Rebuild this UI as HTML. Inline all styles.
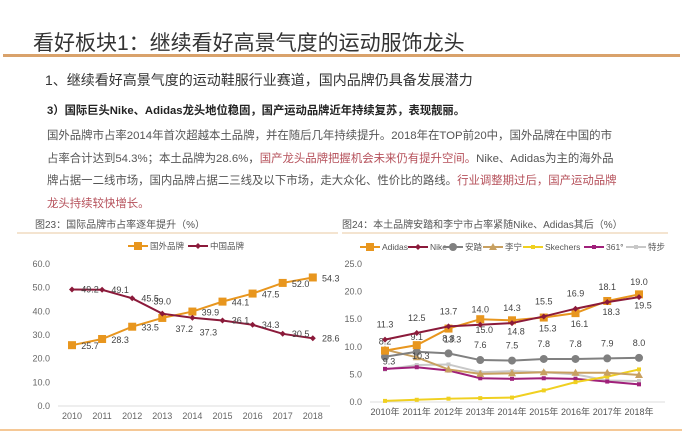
<!DOCTYPE html>
<html><head><meta charset="utf-8">
<style>
body{margin:0;width:682px;height:431px;background:#fff;overflow:hidden;font-family:"Liberation Sans","Noto Sans CJK SC",sans-serif;position:relative}
.t{position:absolute;white-space:nowrap}
.red{color:#b5505a}
</style></head><body>
<div class="t" style="left:33px;top:27px;font-size:21px;color:#333">看好板块1：继续看好高景气度的运动服饰龙头</div>
<div style="position:absolute;left:3px;top:54px;width:677px;height:3px;background:#d9a26b"></div>
<div class="t" style="left:45px;top:70px;font-size:14px;color:#333">1、继续看好高景气度的运动鞋服行业赛道，国内品牌仍具备发展潜力</div>
<div class="t" style="left:47px;top:102px;font-size:11.3px;font-weight:bold;color:#222">3）国际巨头Nike、Adidas龙头地位稳固，国产运动品牌近年持续复苏，表现靓丽。</div>
<div style="position:absolute;left:47px;top:125px;width:600px;white-space:nowrap;font-size:11.4px;line-height:22.5px;color:#555">国外品牌市占率2014年首次超越本土品牌，并在随后几年持续提升。2018年在TOP前20中，国外品牌在中国的市<br>占率合计达到54.3%；本土品牌为28.6%，<span class="red">国产龙头品牌把握机会未来仍有提升空间。</span>Nike、Adidas为主的海外品<br>牌占据一二线市场，国内品牌占据二三线及以下市场，走大众化、性价比的路线。<span class="red">行业调整期过后，国产运动品牌<br>龙头持续较快增长。</span></div>

<svg id="c" width="682" height="431" style="position:absolute;left:0;top:0" font-family="Liberation Sans, Noto Sans CJK SC, sans-serif">
<text x="35" y="228" font-size="10" fill="#555">图23：国际品牌市占率逐年提升（%）</text>
<line x1="17" y1="233" x2="338" y2="233" stroke="#e8c9a0"/>
<text x="342" y="228" font-size="10" fill="#555">图24：本土品牌安踏和李宁市占率紧随Nike、Adidas其后（%）</text>
<line x1="342" y1="233" x2="668" y2="233" stroke="#e8c9a0"/>
<line x1="0" y1="430" x2="682" y2="430" stroke="#f5c896" stroke-width="2"/>
<g id="L"></g><g id="R"></g>
</svg>
<script>
const years=['2010','2011','2012','2013','2014','2015','2016','2017','2018'];
const leftTicks=[0,10,20,30,40,50,60];
const foreign=[25.7,28.3,33.5,37.2,39.9,44.1,47.5,52.0,54.3];
const china=[49.2,49.1,45.5,39.0,37.3,36.1,34.3,30.5,28.6];
const rightTicks=[0,5,10,15,20,25];
const adidas=[9.3,10.3,13.3,15.0,14.8,15.3,16.1,18.3,19.5];
const nike=[11.3,12.5,13.7,14.0,14.3,15.5,16.9,18.1,19.0];
const anta=[8.2,9.1,8.8,7.6,7.5,7.8,7.8,7.9,8.0];
const lining=[9.5,8.1,5.9,5.1,5.2,5.4,5.3,5.3,4.9];
const skechers=[0.2,0.4,0.6,0.7,0.8,2.1,3.6,4.6,5.9];
const s361=[6.0,6.3,5.7,4.3,4.2,4.3,4.2,3.7,3.2];
const xtep=[5.9,6.7,6.8,5.4,5.6,5.4,5.0,3.9,3.8];

const NS='http://www.w3.org/2000/svg';
function mk(p,tag,a){const e=document.createElementNS(NS,tag);for(const k in a)e.setAttribute(k,a[k]);p.appendChild(e);return e;}
function txt(p,x,y,s,size,fill,anchor){const t=mk(p,'text',{x:x,y:y,'font-size':size,fill:fill,'text-anchor':anchor||'middle'});t.textContent=s;return t;}

const L=document.getElementById('L');
const lx=i=>72+i*30.1, ly=v=>406-v*2.367;
leftTicks.forEach(v=>{const t=txt(L,50,ly(v)+3,v.toFixed(1),9,'#666','end');

});
mk(L,'line',{x1:58,y1:406,x2:330,y2:406,stroke:'#ddd'});
years.forEach((y,i)=>{const t=txt(L,lx(i),419,y,9,'#666');

});
function lseries(g,arr,col,marker,name,fx,fy,labelPos){
 const pl=mk(g,'polyline',{points:arr.map((v,i)=>fx(i)+','+fy(v)).join(' '),fill:'none',stroke:col,'stroke-width':2});
 
 
 arr.forEach((v,i)=>{let m;
  if(marker==='sq')m=mk(g,'rect',{x:fx(i)-4,y:fy(v)-4,width:8,height:8,fill:col});
  else if(marker==='c')m=mk(g,'circle',{cx:fx(i),cy:fy(v),r:4,fill:col});
  else if(marker==='tri')m=mk(g,'polygon',{points:`${fx(i)-4},${fy(v)+3} ${fx(i)+4},${fy(v)+3} ${fx(i)},${fy(v)-4}`,fill:col});
  else if(marker==='d')m=mk(g,'polygon',{points:`${fx(i)-3},${fy(v)} ${fx(i)},${fy(v)-3} ${fx(i)+3},${fy(v)} ${fx(i)},${fy(v)+3}`,fill:col});
  else m=mk(g,'rect',{x:fx(i)-2,y:fy(v)-2,width:4,height:4,fill:col});
  
  
  if(labelPos){const o=labelPos(i);const t=txt(g,fx(i)+o[0],fy(v)+o[1],v.toFixed(1),9,'#444');
   
   }
 });
}
lseries(L,foreign,'#e8961e','sq','foreign-brands',lx,ly,i=>i===3?[22,14]:[18,4]);
lseries(L,china,'#8b1a3a','d','china-brands',lx,ly,i=>i===3?[0,-9]:i===4?[16,18]:[18,3]);
function legend(g,x,y,col,marker,label,name){
 const gg=mk(g,'g',{});
 
 
 mk(gg,'line',{x1:x,y1:y,x2:x+20,y2:y,stroke:col,'stroke-width':2});
 if(marker==='sq')mk(gg,'rect',{x:x+6,y:y-4,width:8,height:8,fill:col});
 else if(marker==='c')mk(gg,'circle',{cx:x+10,cy:y,r:4,fill:col});
 else if(marker==='tri')mk(gg,'polygon',{points:`${x+6},${y+3} ${x+14},${y+3} ${x+10},${y-4}`,fill:col});
 else if(marker==='d')mk(gg,'polygon',{points:`${x+7},${y} ${x+10},${y-3} ${x+13},${y} ${x+10},${y+3}`,fill:col});
 else mk(gg,'rect',{x:x+8,y:y-2,width:4,height:4,fill:col});
 txt(gg,x+22,y+3,label,8.5,'#555','start');
}
legend(L,128,246,'#e8961e','sq','国外品牌','legend-foreign');
legend(L,188,246,'#8b1a3a','d','中国品牌','legend-china');

const R=document.getElementById('R');
const rx=i=>385+i*31.75, ry=v=>402-v*5.52;
rightTicks.forEach(v=>{const t=txt(R,362,ry(v)+3,v.toFixed(1),9,'#666','end');

});
mk(R,'line',{x1:370,y1:402,x2:665,y2:402,stroke:'#ddd'});
years.forEach((y,i)=>{const t=txt(R,rx(i),415,y+'年',9,'#555');

});
lseries(R,xtep,'#c8c8c8','s','xtep',rx,ry,null);
lseries(R,s361,'#a0207a','s','brand-361',rx,ry,null);
lseries(R,skechers,'#f0d020','s','skechers',rx,ry,null);
lseries(R,lining,'#c8a060','tri','lining',rx,ry,null);
lseries(R,anta,'#808080','c','anta',rx,ry,i=>[0,-12]);
lseries(R,adidas,'#e8961e','sq','adidas',rx,ry,i=>[4,14]);
lseries(R,nike,'#8b1a3a','d','nike',rx,ry,i=>[0,-12]);
legend(R,360,247,'#e8961e','sq','Adidas','legend-adidas');
legend(R,408,247,'#8b1a3a','d','Nike','legend-nike');
legend(R,443,247,'#808080','c','安踏','legend-anta');
legend(R,483,247,'#c8a060','tri','李宁','legend-lining');
legend(R,523,247,'#f0d020','s','Skechers','legend-skechers');
legend(R,584,247,'#a0207a','s','361°','legend-361');
legend(R,626,247,'#c8c8c8','s','特步','legend-xtep');
</script>
</body></html>
